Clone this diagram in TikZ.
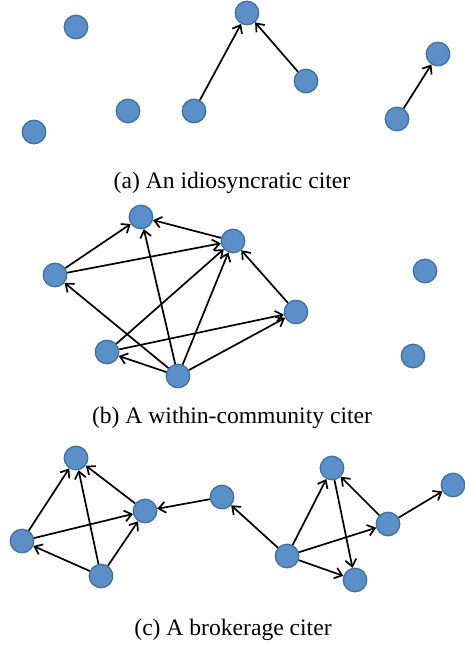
\documentclass[tikz,border=0pt]{standalone}
\usepackage{fontspec}
\setmainfont{Liberation Serif}
\usetikzlibrary{arrows.meta}
\definecolor{nodefill}{HTML}{5B8FC8}
\definecolor{nodeline}{HTML}{41719C}
\begin{document}
\begin{tikzpicture}[x=1pt,y=-1pt,
  vert/.style={circle,fill=nodefill,draw=nodeline,line width=1.3pt,minimum size=23.5pt,inner sep=0pt},
  cite/.style={-{Straight Barb[length=7pt,width=11pt]},line width=1.7pt,black},
  capt/.style={font=\fontsize{23.6}{27}\selectfont,inner sep=0pt}]
\useasboundingbox (0,0) rectangle (465,648);
% panel (a)
\node[vert] (a1) at (76,27) {};
\node[vert] (a2) at (247,13) {};
\node[vert] (a3) at (438,54) {};
\node[vert] (a4) at (306,81) {};
\node[vert] (a5) at (128,111) {};
\node[vert] (a6) at (194,111) {};
\node[vert] (a7) at (397,119) {};
\node[vert] (a8) at (34,132) {};
\draw[cite] (a6) -- (a2);
\draw[cite] (a4) -- (a2);
\draw[cite] (a7) -- (a3);
\node[capt] (ca) at (232,183) {(a) An idiosyncratic citer};
% panel (b)
\node[vert] (b1) at (141,217) {};
\node[vert] (b2) at (233,241) {};
\node[vert] (b3) at (55,275) {};
\node[vert] (b4) at (425,271) {};
\node[vert] (b5) at (296,312) {};
\node[vert] (b6) at (107,352) {};
\node[vert] (b7) at (413,356) {};
\node[vert] (b8) at (178,376) {};
\draw[cite] (b3) -- (b1);
\draw[cite] (b3) -- (b2);
\draw[cite] (b2) -- (b1);
\draw[cite] (b8) -- (b1);
\draw[cite] (b8) -- (b2);
\draw[cite] (b6) -- (b2);
\draw[cite] (b6) -- (b5);
\draw[cite] (b8) -- (b3);
\draw[cite] (b8) -- (b6);
\draw[cite] (b8) -- (b5);
\draw[cite] (b5) -- (b2);
\node[capt] (cb) at (232,418) {(b) A within-community citer};
% panel (c)
\node[vert] (c1) at (76,458) {};
\node[vert] (c2) at (145,511) {};
\node[vert] (c3) at (222,497) {};
\node[vert] (c4) at (22,541) {};
\node[vert] (c5) at (101,576) {};
\node[vert] (c6) at (332,468) {};
\node[vert] (c7) at (453,485) {};
\node[vert] (c8) at (388,524) {};
\node[vert] (c9) at (287,556) {};
\node[vert] (c10) at (355,580) {};
\draw[cite] (c4) -- (c1);
\draw[cite] (c4) -- (c2);
\draw[cite] (c5) -- (c4);
\draw[cite] (c5) -- (c1);
\draw[cite] (c5) -- (c2);
\draw[cite] (c2) -- (c1);
\draw[cite] (c3) -- (c2);
\draw[cite] (c9) -- (c3);
\draw[cite] (c9) -- (c6);
\draw[cite] (c9) -- (c8);
\draw[cite] (c9) -- (c10);
\draw[cite] (c6) -- (c10);
\draw[cite] (c8) -- (c6);
\draw[cite] (c8) -- (c7);
\node[capt] (cc) at (233,630) {(c) A brokerage citer};
\end{tikzpicture}
\end{document}
